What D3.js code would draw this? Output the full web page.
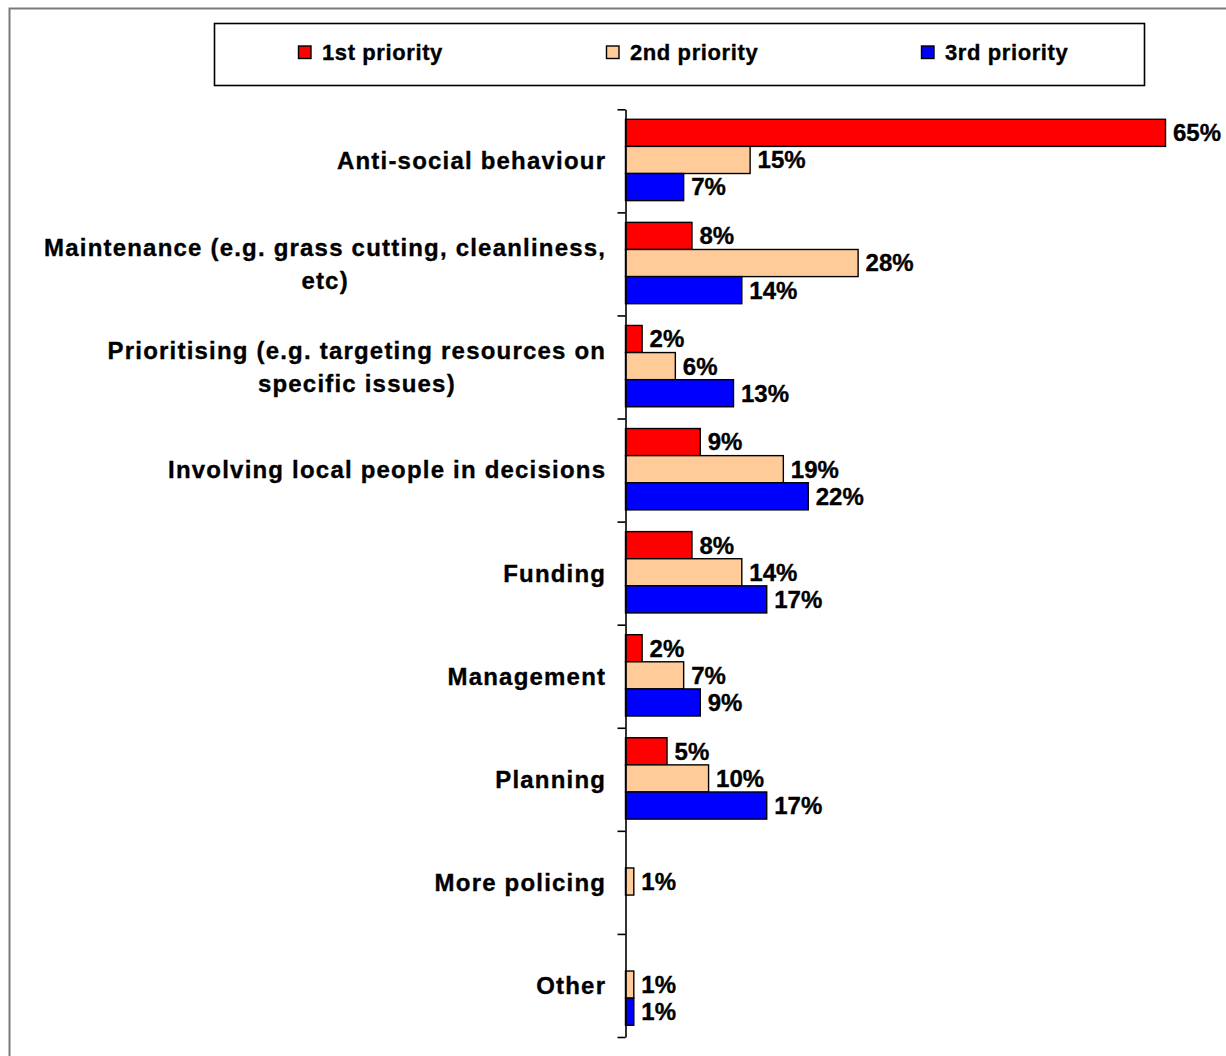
<!DOCTYPE html>
<html>
<head>
<meta charset="utf-8">
<script src="https://cdn.jsdelivr.net/npm/d3@7"></script>
<style>
  html, body { margin: 0; padding: 0; background: #fff; }
  svg { display: block; }
  text { font-family: "Liberation Sans", Arial, sans-serif; font-weight: bold; fill: #000; stroke: #000; stroke-width: 0.35px; }
</style>
</head>
<body>
<svg id="chart" width="1226" height="1056"></svg>
<script>
// ---- data ----
const categories = [
  "Anti-social behaviour",
  "Maintenance (e.g. grass cutting, cleanliness,|etc)",
  "Prioritising (e.g. targeting resources on|specific issues)",
  "Involving local people in decisions",
  "Funding",
  "Management",
  "Planning",
  "More policing",
  "Other"
];
const seriesNames = ["1st priority", "2nd priority", "3rd priority"];
const seriesColors = ["#FF0000", "#FFCC99", "#0000FF"];
const first  = [65, 8, 2, 9, 8, 2, 5, null, null];
const second = [15, 28, 6, 19, 14, 7, 10, 1, 1];
const third  = [7, 14, 13, 22, 17, 9, 17, null, 1];
const seriesValues = [first, second, third];

// ---- layout ----
const svg = d3.select("#chart");
const W = 1226, H = 1056;
const axisX = 625.5;
const plotTop = 109.3, plotBottom = 1037;

// outer frame (top & left edges visible)
svg.append("rect")
  .attr("x", 9.5).attr("y", 8.5)
  .attr("width", W + 20).attr("height", H + 20)
  .attr("fill", "none").attr("stroke", "#7a7a7a").attr("stroke-width", 2);

const x = d3.scaleLinear().domain([0, 65]).range([axisX, 1165.5]);
const y = d3.scaleBand().domain(d3.range(categories.length)).range([plotTop, plotBottom]).padding(0);
const bw = y.bandwidth();
const ys = d3.scaleBand().domain([0, 1, 2]).range([bw * 0.097, bw * 0.886]).padding(0);

// bars
const g = svg.append("g");
seriesValues.forEach((vals, si) => {
  const data = vals.map((v, i) => ({ v, i })).filter(d => d.v != null);
  g.selectAll(null).data(data).enter().append("rect")
    .attr("x", x(0))
    .attr("y", d => y(d.i) + ys(si))
    .attr("width", d => x(d.v) - x(0))
    .attr("height", ys.bandwidth())
    .attr("fill", seriesColors[si])
    .attr("stroke", "#000").attr("stroke-width", 1.4);
  g.selectAll(null).data(data).enter().append("text")
    .attr("x", d => x(d.v) + 7.5)
    .attr("y", d => y(d.i) + ys(si) + ys.bandwidth() / 2)
    .attr("dy", "0.35em")
    .attr("font-size", 24)
    .text(d => d.v + "%");
});

// axis with ticks at category boundaries
const yb = d3.scaleLinear().domain([0, categories.length]).range([plotTop, plotBottom]);
const axis = svg.append("g")
  .attr("transform", `translate(${axisX},0)`)
  .call(d3.axisLeft(yb).tickValues(d3.range(categories.length + 1)).tickFormat("").tickSizeInner(8).tickSizeOuter(0));
axis.selectAll("path, line").attr("stroke", "#000").attr("stroke-width", 1.6);

// category labels
const ls = 1.2;
const labelRight = 605 + ls;
const lab = svg.append("g");
categories.forEach((c, i) => {
  const lines = c.split("|");
  const cy = y(i) + bw / 2;
  const lh = 33;
  const t = lab.append("g");
  const texts = lines.map((ln, k) => t.append("text")
    .attr("y", cy + (k - (lines.length - 1) / 2) * lh)
    .attr("dy", "0.35em")
    .attr("font-size", 24)
    .attr("letter-spacing", ls + "px")
    .attr("text-anchor", "middle")
    .text(ln));
  const widths = texts.map(tx => tx.node().getComputedTextLength());
  const maxW = d3.max(widths);
  texts.forEach(tx => tx.attr("x", labelRight - maxW / 2));
});

// legend
svg.append("rect")
  .attr("x", 214.5).attr("y", 23.5).attr("width", 930).attr("height", 62)
  .attr("fill", "#fff").attr("stroke", "#000").attr("stroke-width", 1.6);
const legendX = [298.5, 606.5, 921.5];
seriesNames.forEach((n, i) => {
  svg.append("rect")
    .attr("x", legendX[i]).attr("y", 46).attr("width", 12.5).attr("height", 12.5)
    .attr("fill", seriesColors[i]).attr("stroke", "#000").attr("stroke-width", 1.4);
  svg.append("text")
    .attr("x", legendX[i] + 23.5)
    .attr("y", 52.5).attr("dy", "0.35em")
    .attr("font-size", 22)
    .attr("letter-spacing", "0.6px")
    .text(n);
});
</script>
</body>
</html>
